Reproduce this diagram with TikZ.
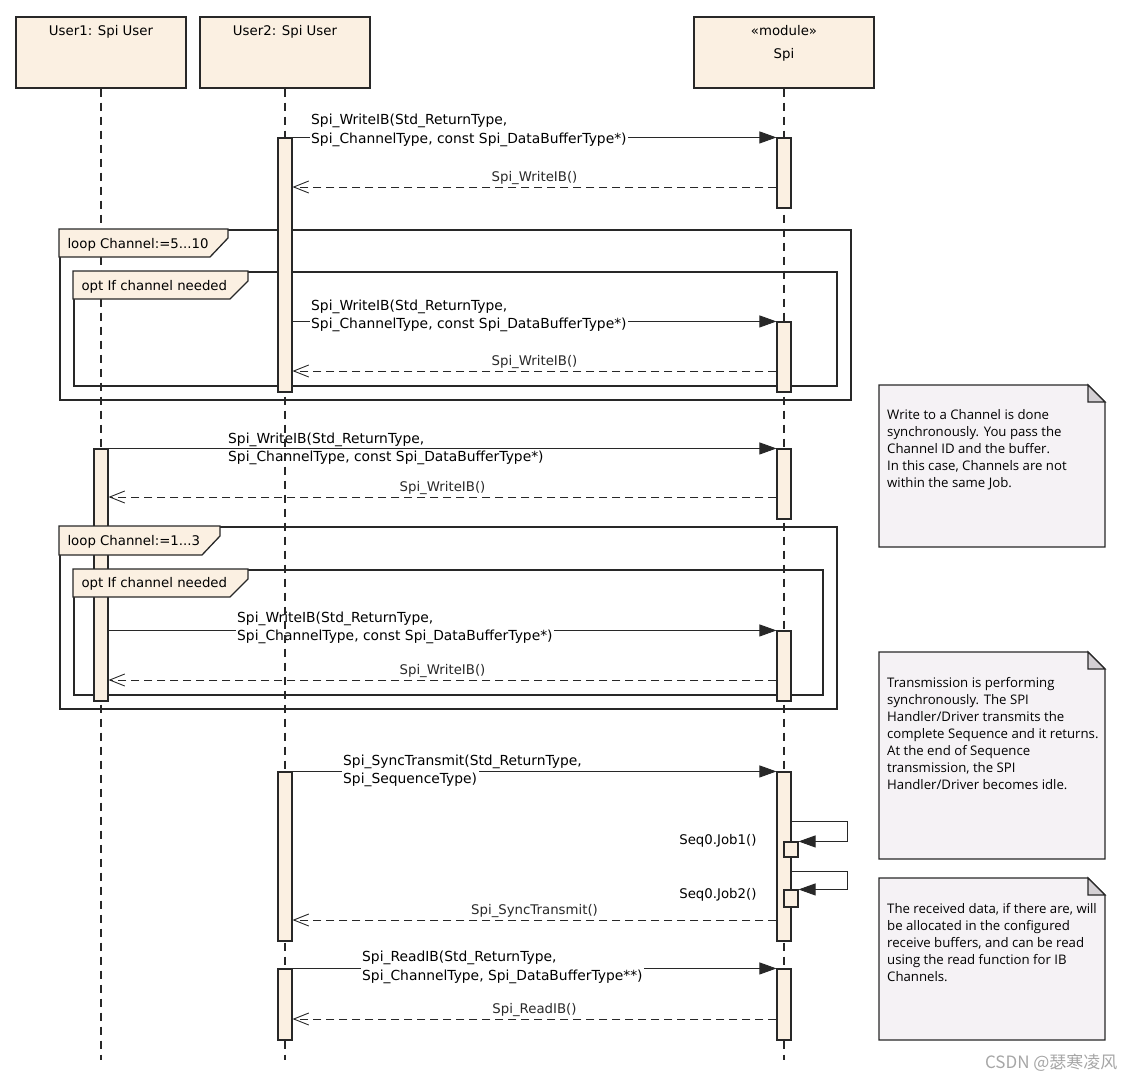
\documentclass[tikz,border=0pt]{standalone}
\usepackage{fontspec}
\setmainfont{DejaVu Sans}
\newfontfamily\notefont{Open Sans}
\newfontfamily\cjkfont{Noto Sans CJK SC}
\usetikzlibrary{arrows.meta,positioning}

\definecolor{umlbeige}{RGB}{251,240,226}
\definecolor{umlnote}{RGB}{245,242,245}
\definecolor{umlfold}{RGB}{212,208,212}
\definecolor{umlline}{RGB}{40,40,40}

\pgfdeclarelayer{lifelayer}
\pgfdeclarelayer{barlayer}
\pgfdeclarelayer{tablayer}
\pgfsetlayers{main,lifelayer,barlayer,tablayer}

\begin{document}
\begin{tikzpicture}[x=1pt,y=-1pt,
	every node/.style={font=\fontsize{13.3}{18}\selectfont},
	hdr/.style={draw=umlline,line width=1.3pt,fill=umlbeige,minimum height=71,inner sep=0pt},
	bar/.style={draw=umlline,line width=1.1pt,fill=umlbeige,minimum width=14,inner sep=0pt},
	life/.style={umlline,line width=1.1pt,dash pattern=on 8pt off 6pt},
	msg/.style={umlline,line width=0.9pt,-{Triangle[length=17pt,width=12pt]}},
	ret/.style={umlline,line width=0.9pt,dash pattern=on 8pt off 5pt,-{Straight Barb[length=15pt,width=12pt]}},
	lbl/.style={font=\fontsize{13.85}{18}\selectfont,inner sep=0pt,anchor=base west},
	lblw/.style={font=\fontsize{13.85}{18}\selectfont,inner sep=1.5pt,fill=white,anchor=base west},
	frame/.style={draw=umlline,line width=1.5pt,inner sep=0pt,anchor=north west},
	tab/.style={draw=umlline,line width=1.3pt,fill=umlbeige},
	note/.style={draw=umlline,line width=1.1pt,fill=umlnote},
	notetext/.style={font=\notefont\fontsize{13.2}{17}\selectfont,align=left,inner sep=0pt,anchor=north west}
	]
	\useasboundingbox (0,0) rectangle (1136,1082);

	% lifeline heads
	\node[hdr,minimum width=170] (u1) at (101,52.5) {};
	\node[hdr,minimum width=170] (u2) at (285,52.5) {};
	\node[hdr,minimum width=180] (spi) at (784,52.5) {};
	\node[anchor=base] (u1t) at (101,35.5) {User1: Spi User};
	\node[anchor=base] (u2t) at (285,35.5) {User2: Spi User};
	\node[anchor=base] (spit) at (784,35.5) {«module»};
	\node[anchor=base] (spin) at (784,58.5) {Spi};

	% combined fragments
	\node[frame,minimum width=791,minimum height=170] (loopa) at (59,229) {};
	\node[frame,minimum width=763,minimum height=114] (opta) at (73,271) {};
	\node[frame,minimum width=777,minimum height=182] (loopb) at (59,526) {};
	\node[frame,minimum width=749,minimum height=125] (optb) at (73,569) {};

	% activations
	\begin{pgfonlayer}{barlayer}
		\node[bar,minimum height=254] (u2a) at (285,265) {};
		\node[bar,minimum height=70] (spa) at (784,173) {};
		\node[bar,minimum height=70] (spb) at (784,357) {};
		\node[bar,minimum height=252] (u1a) at (101,575) {};
		\node[bar,minimum height=70] (spc) at (784,484) {};
		\node[bar,minimum height=70] (spd) at (784,666) {};
		\node[bar,minimum height=169] (u2b) at (285,856.5) {};
		\node[bar,minimum height=169] (spe) at (784,856.5) {};
		\node[bar,minimum height=71] (u2c) at (285,1004.5) {};
		\node[bar,minimum height=71] (spf) at (784,1004.5) {};
		\node[bar,minimum height=15] (joba) at (791,849.5) {};
		\node[bar,minimum height=17] (jobb) at (791,898.5) {};
	\end{pgfonlayer}

	% lifelines
	\begin{pgfonlayer}{lifelayer}
		\draw[life] (u1.south) -- (u1.south |- 0,1060);
		\draw[life] (u2.south) -- (u2.south |- 0,1060);
		\draw[life] (spi.south) -- (spi.south |- 0,1060);
	\end{pgfonlayer}

	% messages
	\draw[msg] (u2a.north east) -- (spa.north west);
	\node[lbl] (m1a) at (311,124.5) {Spi\_WriteIB(Std\_ReturnType,};
	\node[lblw] (m1b) at (309.5,143.5) {Spi\_ChannelType, const Spi\_DataBufferType*)};
	\draw[ret] (spa.west |- 0,187) -- node[above=1pt,inner sep=1pt] (r1) {Spi\_WriteIB()} (u2a.east |- 0,187);

	\draw[msg] (u2a.east |- spb.north) -- (spb.north west);
	\node[lbl] (m2a) at (311,310.5) {Spi\_WriteIB(Std\_ReturnType,};
	\node[lblw] (m2b) at (309.5,328.5) {Spi\_ChannelType, const Spi\_DataBufferType*)};
	\draw[ret] (spb.west |- 0,371) -- node[above=1pt,inner sep=1pt] (r2) {Spi\_WriteIB()} (u2a.east |- 0,371);

	\draw[msg] (u1a.north east) -- (spc.north west);
	\node[lbl] (m3a) at (228,443.5) {Spi\_WriteIB(Std\_ReturnType,};
	\node[lblw] (m3b) at (226.5,461.5) {Spi\_ChannelType, const Spi\_DataBufferType*)};
	\draw[ret] (spc.west |- 0,497) -- node[above=1pt,inner sep=1pt] (r3) {Spi\_WriteIB()} (u1a.east |- 0,497);

	\draw[msg] (u1a.east |- spd.north) -- (spd.north west);
	\node[lbl] (m4a) at (237,622.5) {Spi\_WriteIB(Std\_ReturnType,};
	\node[lblw] (m4b) at (235.5,640.5) {Spi\_ChannelType, const Spi\_DataBufferType*)};
	\draw[ret] (spd.west |- 0,680) -- node[above=1pt,inner sep=1pt] (r4) {Spi\_WriteIB()} (u1a.east |- 0,680);

	\draw[msg] (u2b.north east) -- (spe.north west);
	\node[lbl] (m5a) at (343,765.5) {Spi\_SyncTransmit(Std\_ReturnType,};
	\node[lblw] (m5b) at (341.5,783.5) {Spi\_SequenceType)};
	\draw[msg] (spe.east |- 0,821) -- ++(56,0) |- (joba.north east);
	\node[anchor=base east] (s1) at (760,844.5) {Seq0.Job1()};
	\draw[msg] (spe.east |- 0,871) -- ++(56,0) |- (jobb.north east);
	\node[anchor=base east] (s2) at (760,898.5) {Seq0.Job2()};
	\draw[ret] (spe.west |- 0,920) -- node[above=1pt,inner sep=1pt] (r5) {Spi\_SyncTransmit()} (u2b.east |- 0,920);

	\draw[msg] (u2c.north east) -- (spf.north west);
	\node[lbl] (m6a) at (362,961.5) {Spi\_ReadIB(Std\_ReturnType,};
	\node[lblw] (m6b) at (360.5,980.5) {Spi\_ChannelType, Spi\_DataBufferType**)};
	\draw[ret] (spf.west |- 0,1019) -- node[above=1pt,inner sep=1pt] (r6) {Spi\_ReadIB()} (u2c.east |- 0,1019);

	% fragment tabs
	\begin{pgfonlayer}{tablayer}
		\draw[tab] (loopa.north west) -- ++(169,0) -- ++(0,9) -- ++(-18,19) -- ++(-151,0) -- cycle;
		\node[anchor=base west] (loopat) at ([shift={(5,19)}]loopa.north west) {loop Channel:=5...10};
		\draw[tab] (opta.north west) -- ++(175,0) -- ++(0,10) -- ++(-18,18) -- ++(-157,0) -- cycle;
		\node[anchor=base west] (optat) at ([shift={(5,19)}]opta.north west) {opt If channel needed};
		\draw[tab] (loopb.north west) -- ++(161,0) -- ++(0,10) -- ++(-18,19) -- ++(-143,0) -- cycle;
		\node[anchor=base west] (loopbt) at ([shift={(5,19.5)}]loopb.north west) {loop Channel:=1...3};
		\draw[tab] (optb.north west) -- ++(175,0) -- ++(0,10) -- ++(-18,18) -- ++(-157,0) -- cycle;
		\node[anchor=base west] (optbt) at ([shift={(5,18.5)}]optb.north west) {opt If channel needed};
	\end{pgfonlayer}

	% notes
	\draw[note] (879,385) -- (1088,385) -- (1105,402) -- (1105,547) -- (879,547) -- cycle;
	\draw[note,fill=umlfold] (1088,385) -- (1088,402) -- (1105,402) -- cycle;
	\node[notetext] (n1) at (887,409.7) {Write to a Channel is done\\synchronously. You pass the\\Channel ID and the buffer.\\In this case, Channels are not\\within the same Job.};

	\draw[note] (879,652) -- (1088,652) -- (1105,669) -- (1105,859) -- (879,859) -- cycle;
	\draw[note,fill=umlfold] (1088,652) -- (1088,669) -- (1105,669) -- cycle;
	\node[notetext] (n2) at (887,676.7) {Transmission is performing\\synchronously. The SPI\\Handler/Driver transmits the\\complete Sequence and it returns.\\At the end of Sequence\\transmission, the SPI\\Handler/Driver becomes idle.};

	\draw[note] (879,878) -- (1088,878) -- (1105,895) -- (1105,1040) -- (879,1040) -- cycle;
	\draw[note,fill=umlfold] (1088,878) -- (1088,895) -- (1105,895) -- cycle;
	\node[notetext] (n3) at (887,902.7) {The received data, if there are, will\\be allocated in the configured\\receive buffers, and can be read\\using the read function for IB\\Channels.};

	\node[font=\cjkfont\fontsize{17}{17}\selectfont,text=black!35,anchor=east] (wm) at (1121,1063) {CSDN @瑟寒凌风};
\end{tikzpicture}
\end{document}
